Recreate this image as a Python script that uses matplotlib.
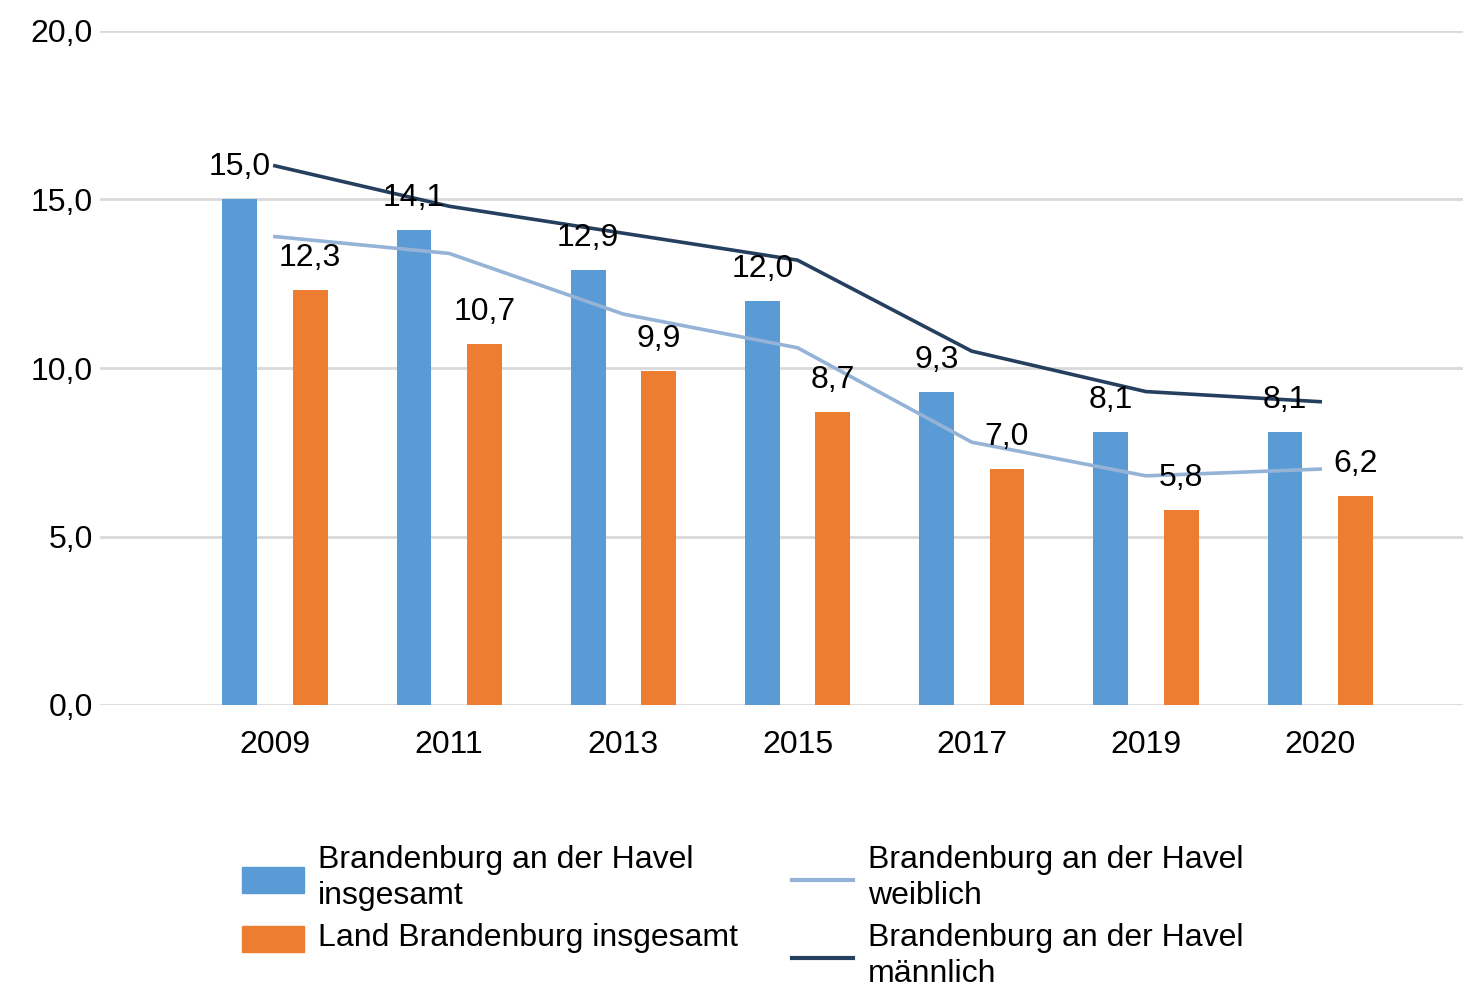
import matplotlib
matplotlib.use("Agg")
import matplotlib.pyplot as plt
from matplotlib.patches import Rectangle
from matplotlib.lines import Line2D
import numpy as np

plt.rcParams['font.family'] = ['Liberation Sans', 'DejaVu Sans']

years = ["2009", "2011", "2013", "2015", "2017", "2019", "2020"]
bb_havel_total = [15.0, 14.1, 12.9, 12.0, 9.3, 8.1, 8.1]
land_bb_total = [12.3, 10.7, 9.9, 8.7, 7.0, 5.8, 6.2]
bb_havel_female = [13.9, 13.4, 11.6, 10.6, 7.8, 6.8, 7.0]
bb_havel_male = [16.0, 14.8, 14.0, 13.2, 10.5, 9.3, 9.0]
yticks = [0, 5, 10, 15, 20]

c_blue = '#5b9bd5'
c_orange = '#ed7d31'
c_light = '#95b3d7'
c_dark = '#253f5e'

W, H = 1463, 998
fig = plt.figure(figsize=(W/100, H/100), dpi=100)
ax = fig.add_axes([100/W, 1-705/H, 1-100/W, (705-31)/H])

x = np.arange(len(years))
bw = 0.2
off = 0.202
ax.bar(x - off, bb_havel_total, width=bw, color=c_blue, zorder=2)
ax.bar(x + off, land_bb_total, width=bw, color=c_orange, zorder=2)
ax.plot(x, bb_havel_female, color=c_light, lw=2.6, zorder=3)
ax.plot(x, bb_havel_male, color=c_dark, lw=2.6, zorder=3)

fs = 23
for xi, v in zip(x, bb_havel_total):
    ax.text(xi - off, v + 0.95, f"{v:.1f}".replace('.', ','), ha='center', va='center', fontsize=fs, zorder=4)
for xi, v in zip(x, land_bb_total):
    ax.text(xi + off, v + 0.95, f"{v:.1f}".replace('.', ','), ha='center', va='center', fontsize=fs, zorder=4)

ax.set_xlim(-1.004, 6.82)
ax.set_ylim(0, 20)
ax.set_yticks(yticks)
ax.set_yticklabels([f"{t:.1f}".replace('.', ',') for t in yticks], fontsize=fs)
ax.set_xticks(x)
ax.set_xticklabels(years, fontsize=fs)
ax.tick_params(axis='both', length=0)
ax.tick_params(axis='y', pad=5)
ax.tick_params(axis='x', pad=18)
ax.grid(axis='y', color='#d9d9d9', lw=2, zorder=0)
ax.set_axisbelow(True)
for s in ax.spines.values():
    s.set_visible(False)

# Legend (manual)
def fx(px):
    return px / W
def fy(py):
    return 1 - py / H

fig.patches.append(Rectangle((fx(242), fy(893)), fx(304) - fx(242), (893-867)/H,
                             transform=fig.transFigure, color=c_blue))
fig.patches.append(Rectangle((fx(242), fy(952)), fx(304) - fx(242), (952-926)/H,
                             transform=fig.transFigure, color=c_orange))
fig.lines.append(Line2D([fx(792), fx(853)], [fy(880), fy(880)], transform=fig.transFigure,
                        color=c_light, lw=3))
fig.lines.append(Line2D([fx(792), fx(853)], [fy(958), fy(958)], transform=fig.transFigure,
                        color=c_dark, lw=3))
lfs = 23
fig.text(fx(318), fy(878), "Brandenburg an der Havel\ninsgesamt", fontsize=lfs, va='center', ha='left', linespacing=1.22)
fig.text(fx(318), fy(938), "Land Brandenburg insgesamt", fontsize=lfs, va='center', ha='left')
fig.text(fx(868), fy(878), "Brandenburg an der Havel\nweiblich", fontsize=lfs, va='center', ha='left', linespacing=1.22)
fig.text(fx(868), fy(956), "Brandenburg an der Havel\nmännlich", fontsize=lfs, va='center', ha='left', linespacing=1.22)

fig.savefig("out.png", dpi=100, facecolor='white')
